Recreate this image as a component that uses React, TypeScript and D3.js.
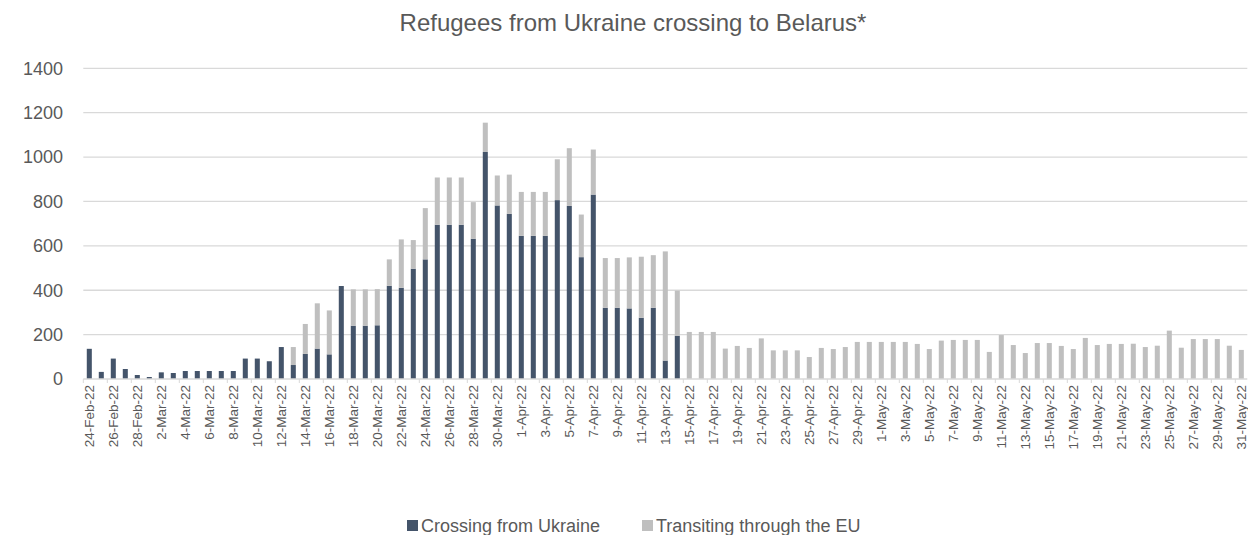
import React from "react";
import * as d3 from "d3";

const dates = [
  "24-Feb-22","25-Feb-22","26-Feb-22","27-Feb-22","28-Feb-22",
  "1-Mar-22","2-Mar-22","3-Mar-22","4-Mar-22","5-Mar-22","6-Mar-22","7-Mar-22","8-Mar-22","9-Mar-22","10-Mar-22",
  "11-Mar-22","12-Mar-22","13-Mar-22","14-Mar-22","15-Mar-22","16-Mar-22","17-Mar-22","18-Mar-22","19-Mar-22","20-Mar-22",
  "21-Mar-22","22-Mar-22","23-Mar-22","24-Mar-22","25-Mar-22","26-Mar-22","27-Mar-22","28-Mar-22","29-Mar-22","30-Mar-22","31-Mar-22",
  "1-Apr-22","2-Apr-22","3-Apr-22","4-Apr-22","5-Apr-22","6-Apr-22","7-Apr-22","8-Apr-22","9-Apr-22","10-Apr-22",
  "11-Apr-22","12-Apr-22","13-Apr-22","14-Apr-22","15-Apr-22","16-Apr-22","17-Apr-22","18-Apr-22","19-Apr-22","20-Apr-22",
  "21-Apr-22","22-Apr-22","23-Apr-22","24-Apr-22","25-Apr-22","26-Apr-22","27-Apr-22","28-Apr-22","29-Apr-22","30-Apr-22",
  "1-May-22","2-May-22","3-May-22","4-May-22","5-May-22","6-May-22","7-May-22","8-May-22","9-May-22","10-May-22",
  "11-May-22","12-May-22","13-May-22","14-May-22","15-May-22","16-May-22","17-May-22","18-May-22","19-May-22","20-May-22",
  "21-May-22","22-May-22","23-May-22","24-May-22","25-May-22","26-May-22","27-May-22","28-May-22","29-May-22","30-May-22","31-May-22",
];

const crossing = [
  136, 32, 92, 45, 18,
  9, 30, 27, 36, 36, 36, 36, 36, 92, 92,
  80, 144, 63, 113, 137, 111, 419, 240, 240, 242,
  420, 411, 497, 539, 695, 695, 695, 632, 1023, 782, 744,
  645, 645, 645, 806, 780, 549, 831, 321, 321, 318,
  276, 321, 83, 195, 0, 0, 0, 0, 0, 0,
  0, 0, 0, 0, 0, 0, 0, 0, 0, 0,
  0, 0, 0, 0, 0, 0, 0, 0, 0, 0,
  0, 0, 0, 0, 0, 0, 0, 0, 0, 0,
  0, 0, 0, 0, 0, 0, 0, 0, 0, 0, 0,
];

const transiting = [
  0, 0, 0, 0, 0,
  0, 0, 0, 0, 0, 0, 0, 0, 0, 0,
  0, 0, 81, 135, 204, 198, 0, 164, 164, 163,
  119, 218, 129, 231, 213, 213, 213, 165, 132, 135, 177,
  198, 198, 198, 184, 260, 192, 203, 224, 224, 230,
  275, 237, 492, 203, 212, 212, 212, 137, 149, 140,
  183, 129, 129, 129, 99, 140, 135, 144, 167, 167,
  167, 167, 167, 158, 135, 173, 176, 176, 176, 122,
  198, 153, 117, 162, 162, 149, 135, 185, 153, 158,
  158, 159, 144, 150, 218, 141, 180, 180, 180, 150, 131,
];

const yTicks = [0, 200, 400, 600, 800, 1000, 1200, 1400];

const seriesNames = ["Crossing from Ukraine", "Transiting through the EU"];
const seriesColors = ["#44546A", "#BFBFBF"];

const W = 1248;
const H = 535;
const left = 83.3;
const right = 1247.3;
const top = 68.3;
const bottom = 379;
const font = "'Liberation Sans', Arial, sans-serif";
const textColor = "#595959";

export default function App() {
  const pad = 0.58;
  const x = d3.scaleBand<string>().domain(dates).range([left, right]).paddingInner(pad).paddingOuter(pad / 2);
  const y = d3.scaleLinear().domain([0, 1400]).range([bottom, top]);
  const step = x.step();

  const rows = dates.map((d, i) => ({ date: d, c: crossing[i], t: transiting[i] }));
  const stack = d3.stack<any>().keys(["c", "t"])(rows);

  const tickDates = dates.filter((_, i) => i % 2 === 0);

  return (
    <div style={{ position: "absolute", left: 0, top: 0 }}>
      <svg width={W} height={H} style={{ display: "block", background: "#fff" }}>
        <text x={633} y={31} textAnchor="middle" fontFamily={font} fontSize={24} fill={textColor}>
          Refugees from Ukraine crossing to Belarus*
        </text>
        {yTicks.map((t) => (
          <g key={t}>
            {t > 0 && (
              <line x1={left} x2={right} y1={y(t)} y2={y(t)} stroke="#D9D9D9" strokeWidth={1.3} />
            )}
            <text x={63} y={y(t)} dy="0.35em" textAnchor="end" fontFamily={font} fontSize={18} fill={textColor}>
              {t}
            </text>
          </g>
        ))}
        {stack.map((s, si) => (
          <g key={si} fill={seriesColors[si]}>
            {s.map((seg: any, i: number) =>
              seg[1] - seg[0] > 0 ? (
                <rect
                  key={i}
                  x={x(dates[i])}
                  width={x.bandwidth()}
                  y={y(seg[1])}
                  height={y(seg[0]) - y(seg[1])}
                />
              ) : null
            )}
          </g>
        ))}
        <line x1={left} x2={right} y1={bottom} y2={bottom} stroke="#D9D9D9" strokeWidth={1.3} />
        {tickDates.map((d) => {
          const bx = (x(d) as number) - (step * pad) / 2;
          return <line key={"t" + d} x1={bx} x2={bx} y1={bottom} y2={bottom + 4} stroke="#D9D9D9" strokeWidth={1} />;
        })}
        {tickDates.map((d) => {
          const cx = (x(d) as number) + x.bandwidth() / 2;
          return (
            <text
              key={"l" + d}
              transform={`translate(${cx},385) rotate(-90)`}
              dy="0.35em"
              textAnchor="end"
              fontFamily={font}
              fontSize={13.5}
              fill={textColor}
            >
              {d}
            </text>
          );
        })}
        <g>
          <rect x={407} y={520} width={11} height={11} fill={seriesColors[0]} />
          <text x={421} y={532} fontFamily={font} fontSize={18} fill={textColor}>{seriesNames[0]}</text>
          <rect x={642} y={520} width={11} height={11} fill={seriesColors[1]} />
          <text x={656} y={532} fontFamily={font} fontSize={18} fill={textColor}>{seriesNames[1]}</text>
        </g>
      </svg>
    </div>
  );
}
